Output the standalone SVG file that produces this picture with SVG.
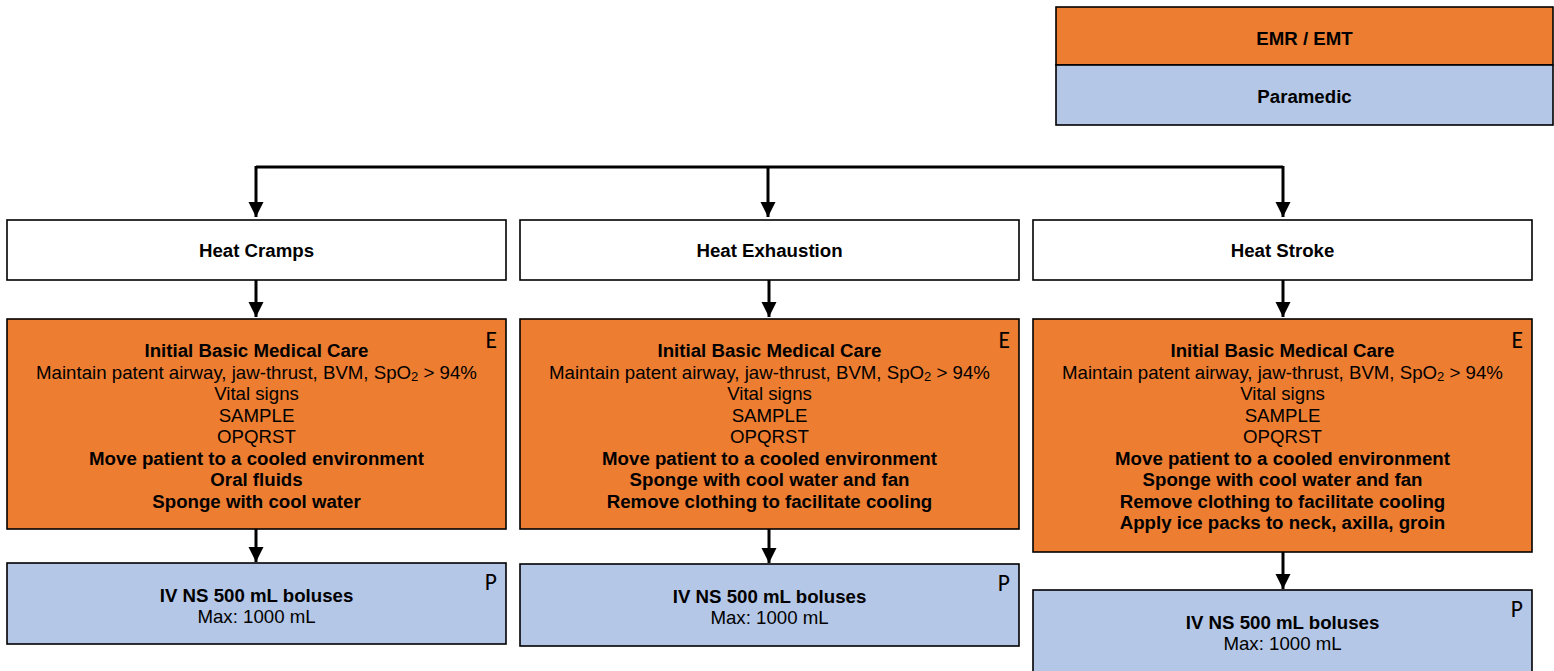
<svg xmlns="http://www.w3.org/2000/svg" width="1554" height="671" viewBox="0 0 1554 671">
  <defs>
    <marker id="arrow" markerUnits="userSpaceOnUse" markerWidth="16" markerHeight="16" refX="15" refY="7.5" orient="auto">
      <path d="M0,0 L15,7.5 L0,15 z" fill="#000"/>
    </marker>
    <style>
      .box { stroke: #000; stroke-width: 1.6; }
      .white { fill: #ffffff; }
      .emt { fill: #ED7D31; }
      .para { fill: #B4C7E7; }
      .t { font-family: "Liberation Sans", Arial, sans-serif; font-size: 18.67px; fill: #000; text-anchor: middle; }
      .b { font-weight: bold; }
      .tag { font-family: Carlito, Calibri, Lato, sans-serif; font-size: 23.5px; fill: #000; text-anchor: end; }
      .conn { fill: none; stroke: #000; stroke-width: 3; }
    </style>
  </defs>

  <rect width="1554" height="671" fill="#ffffff"/>

  <!-- Legend -->
  <g id="legend">
    <rect class="box emt" x="1056" y="7" width="497" height="58"/>
    <rect class="box para" x="1056" y="65" width="497" height="60"/>
    <text class="t b" x="1304.5" y="44.5">EMR / EMT</text>
    <text class="t b" x="1304.5" y="102.5">Paramedic</text>
  </g>

  <!-- Connectors -->
  <g id="connectors">
    <path class="conn" d="M256,167 H1283"/>
    <path class="conn" d="M256,166 V217" marker-end="url(#arrow)"/>
    <path class="conn" d="M768,166 V217" marker-end="url(#arrow)"/>
    <path class="conn" d="M1283,166 V217" marker-end="url(#arrow)"/>
    <path class="conn" d="M256,280 V317" marker-end="url(#arrow)"/>
    <path class="conn" d="M769,280 V317" marker-end="url(#arrow)"/>
    <path class="conn" d="M1283,280 V317" marker-end="url(#arrow)"/>
    <path class="conn" d="M256,529 V562" marker-end="url(#arrow)"/>
    <path class="conn" d="M769,529 V563" marker-end="url(#arrow)"/>
    <path class="conn" d="M1283,552 V589" marker-end="url(#arrow)"/>
  </g>

  <!-- Column 1: Heat Cramps -->
  <g id="heat-cramps">
    <rect class="box white" x="7" y="220" width="499" height="60"/>
    <text class="t b" x="256.5" y="257">Heat Cramps</text>
  </g>
  <g id="cramps-basic-care">
    <rect class="box emt" x="7" y="319" width="499" height="210"/>
    <text class="tag" x="497" y="347.5">E</text>
    <text class="t b" x="256.5" y="357">Initial Basic Medical Care</text>
    <text class="t" x="256.5" y="378.5">Maintain patent airway, jaw-thrust, BVM, SpO<tspan font-size="13" dy="2">2</tspan><tspan dy="-2"> &gt; 94%</tspan></text>
    <text class="t" x="256.5" y="400">Vital signs</text>
    <text class="t" x="256.5" y="421.5">SAMPLE</text>
    <text class="t" x="256.5" y="443">OPQRST</text>
    <text class="t b" x="256.5" y="464.5">Move patient to a cooled environment</text>
    <text class="t b" x="256.5" y="486">Oral fluids</text>
    <text class="t b" x="256.5" y="507.5">Sponge with cool water</text>
  </g>
  <g id="cramps-paramedic">
    <rect class="box para" x="7" y="563" width="499" height="81"/>
    <text class="tag" x="497" y="589.5">P</text>
    <text class="t b" x="256.5" y="602">IV NS 500 mL boluses</text>
    <text class="t" x="256.5" y="623">Max: 1000 mL</text>
  </g>

  <!-- Column 2: Heat Exhaustion -->
  <g id="heat-exhaustion">
    <rect class="box white" x="520" y="220" width="499" height="60"/>
    <text class="t b" x="769.5" y="257">Heat Exhaustion</text>
  </g>
  <g id="exhaustion-basic-care">
    <rect class="box emt" x="520" y="319" width="499" height="210"/>
    <text class="tag" x="1010" y="347.5">E</text>
    <text class="t b" x="769.5" y="357">Initial Basic Medical Care</text>
    <text class="t" x="769.5" y="378.5">Maintain patent airway, jaw-thrust, BVM, SpO<tspan font-size="13" dy="2">2</tspan><tspan dy="-2"> &gt; 94%</tspan></text>
    <text class="t" x="769.5" y="400">Vital signs</text>
    <text class="t" x="769.5" y="421.5">SAMPLE</text>
    <text class="t" x="769.5" y="443">OPQRST</text>
    <text class="t b" x="769.5" y="464.5">Move patient to a cooled environment</text>
    <text class="t b" x="769.5" y="486">Sponge with cool water and fan</text>
    <text class="t b" x="769.5" y="507.5">Remove clothing to facilitate cooling</text>
  </g>
  <g id="exhaustion-paramedic">
    <rect class="box para" x="520" y="564" width="499" height="82"/>
    <text class="tag" x="1010" y="590.5">P</text>
    <text class="t b" x="769.5" y="603">IV NS 500 mL boluses</text>
    <text class="t" x="769.5" y="624">Max: 1000 mL</text>
  </g>

  <!-- Column 3: Heat Stroke -->
  <g id="heat-stroke">
    <rect class="box white" x="1033" y="220" width="499" height="60"/>
    <text class="t b" x="1282.5" y="257">Heat Stroke</text>
  </g>
  <g id="stroke-basic-care">
    <rect class="box emt" x="1033" y="319" width="499" height="233"/>
    <text class="tag" x="1523" y="347.5">E</text>
    <text class="t b" x="1282.5" y="357">Initial Basic Medical Care</text>
    <text class="t" x="1282.5" y="378.5">Maintain patent airway, jaw-thrust, BVM, SpO<tspan font-size="13" dy="2">2</tspan><tspan dy="-2"> &gt; 94%</tspan></text>
    <text class="t" x="1282.5" y="400">Vital signs</text>
    <text class="t" x="1282.5" y="421.5">SAMPLE</text>
    <text class="t" x="1282.5" y="443">OPQRST</text>
    <text class="t b" x="1282.5" y="464.5">Move patient to a cooled environment</text>
    <text class="t b" x="1282.5" y="486">Sponge with cool water and fan</text>
    <text class="t b" x="1282.5" y="507.5">Remove clothing to facilitate cooling</text>
    <text class="t b" x="1282.5" y="529">Apply ice packs to neck, axilla, groin</text>
  </g>
  <g id="stroke-paramedic">
    <rect class="box para" x="1033" y="590" width="499" height="100"/>
    <text class="tag" x="1523" y="616.5">P</text>
    <text class="t b" x="1282.5" y="629">IV NS 500 mL boluses</text>
    <text class="t" x="1282.5" y="650">Max: 1000 mL</text>
  </g>
</svg>
